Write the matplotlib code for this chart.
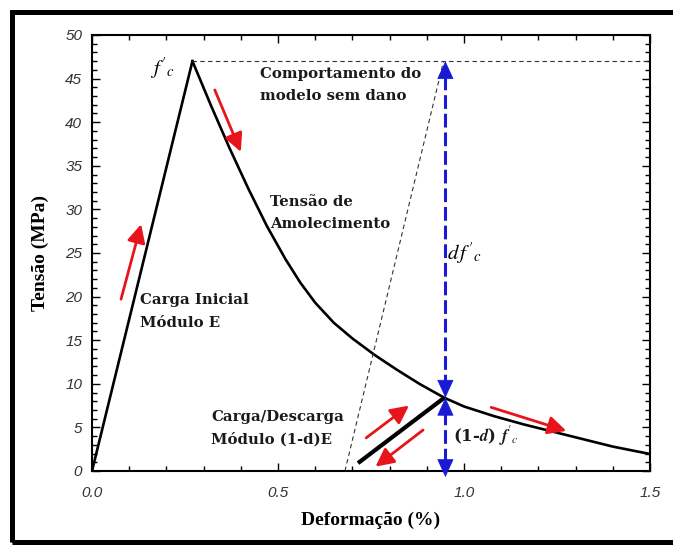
import matplotlib.pyplot as plt
from matplotlib.patches import Rectangle
from matplotlib.ticker import MultipleLocator

plt.rcParams['mathtext.fontset'] = 'stix'

# curva tensao x deformacao
pico_x, pico_y = 0.27, 47.0
amolec_x = [0.27, 0.32, 0.37, 0.42, 0.47, 0.52, 0.56, 0.60, 0.65, 0.70, 0.76,
            0.82, 0.88, 0.947, 1.00, 1.08, 1.16, 1.24, 1.32, 1.40, 1.50]
amolec_y = [47.0, 41.9, 37.0, 32.4, 28.1, 24.3, 21.6, 19.3, 17.0, 15.2, 13.3,
            11.6, 10.0, 8.4, 7.4, 6.3, 5.35, 4.5, 3.65, 2.8, 1.95]

# comportamento sem dano (reta paralela ao modulo E)
sem_dano_x = [0.68, 0.945]
sem_dano_y = [0.0, 47.0]

# ramo de carga/descarga
descarga_x = [0.715, 0.947]
descarga_y = [0.9, 8.4]

# setas vermelhas (origem, destino)
setas = [
    ((0.078, 19.7), (0.132, 28.3)),
    ((0.330, 43.7), (0.400, 36.6)),
    ((0.737, 3.8), (0.852, 7.5)),
    ((0.890, 4.7), (0.762, 0.5)),
    ((1.073, 7.3), (1.275, 4.6)),
]

fig = plt.figure(figsize=(6.73, 5.45), dpi=100)
ax = fig.add_axes([92 / 673, 1 - 471 / 545, 558 / 673, 436 / 545])

# moldura externa
fig.patches.append(Rectangle((12 / 673, 3 / 545), 1.2, 1 - 15 / 545,
                             transform=fig.transFigure, fill=False,
                             lw=3.6, ec='black', clip_on=False))

ax.plot([0, pico_x], [0, pico_y], color='black', lw=1.9)
ax.plot(amolec_x, amolec_y, color='black', lw=1.9)
ax.plot([pico_x, 1.5], [pico_y, pico_y], color='#333333', lw=0.8, dashes=(4, 3))
ax.plot(sem_dano_x, sem_dano_y, color='#333333', lw=0.8, dashes=(4, 3))
ax.plot(descarga_x, descarga_y, color='black', lw=3.0, solid_capstyle='butt')

for (x0, y0), (x1, y1) in setas:
    ax.annotate('', xy=(x1, y1), xytext=(x0, y0),
                arrowprops=dict(arrowstyle='-|>,head_length=11,head_width=5.5',
                                mutation_scale=1, color='#e8141b', lw=2.0,
                                shrinkA=0, shrinkB=0))

# cotas azuis
xb = 0.95
azul = '#1a1ad6'
ax.plot([xb, xb], [9.5, 45.5], color=azul, lw=2.2, dashes=(4.5, 1.6))
ax.plot([xb, xb], [1.0, 7.3], color=azul, lw=2.2, dashes=(4.5, 1.6))
for y_tip, y_base in [(47.0, 44.5), (8.4, 10.9), (8.4, 5.9), (-0.7, 1.8)]:
    ax.annotate('', xy=(xb, y_tip), xytext=(xb, y_base),
                arrowprops=dict(arrowstyle='-|>,head_length=12,head_width=5.5',
                                mutation_scale=1, color=azul, lw=0.5,
                                shrinkA=0, shrinkB=0),
                annotation_clip=False)

fonte = dict(family='DejaVu Serif', fontweight='bold', fontsize=10.7, color='#1a1a1a',
             va='center', ha='left', linespacing=1.75)
ax.text(0.452, 44.3, 'Comportamento do\nmodelo sem dano', **fonte)
ax.text(0.478, 29.6, 'Tensão de\nAmolecimento', **fonte)
ax.text(0.129, 18.3, 'Carga Inicial\nMódulo E', **fonte)
ax.text(0.32, 4.9, 'Carga/Descarga\nMódulo (1-d)E', **fonte)
ax.text(0.19, 46.2, "$f'_c$", ha='center', va='center', fontsize=15)
ax.text(0.955, 25.0, "$d\\,f'_c$", ha='left', va='center', fontsize=15)
ax.text(0.97, 4.0, "(1-$\\mathbfit{d}$) $\\mathbfit{f}'_\\mathit{c}$", ha='left', va='center',
        family='DejaVu Serif', fontweight='bold', fontsize=12, color='#1a1a1a')

ax.set_xlim(0, 1.5)
ax.set_ylim(0, 50)
ax.xaxis.set_major_locator(MultipleLocator(0.5))
ax.xaxis.set_minor_locator(MultipleLocator(0.1))
ax.yaxis.set_major_locator(MultipleLocator(5))
ax.yaxis.set_minor_locator(MultipleLocator(1))
ax.xaxis.set_major_formatter(lambda v, p: f'{v:.1f}')
ax.yaxis.set_major_formatter(lambda v, p: f'{v:.0f}')
ax.tick_params(which='both', direction='in', top=True, right=True, width=1.0)
ax.tick_params(which='major', length=6)
ax.tick_params(which='minor', length=3.5)
ax.tick_params(axis='x', pad=11)
ax.tick_params(axis='y', pad=7)
for lab in ax.get_xticklabels() + ax.get_yticklabels():
    lab.set_family('Liberation Sans')
    lab.set_style('italic')
    lab.set_fontsize(11)
    lab.set_color('#333333')
for s in ax.spines.values():
    s.set_linewidth(1.5)

ax.set_xlabel('Deformação (%)', family='Liberation Serif', fontweight='bold',
              fontsize=14, labelpad=8)
ax.set_ylabel('Tensão (MPa)', family='Liberation Serif', fontweight='bold',
              fontsize=14, labelpad=12)

fig.savefig('out.png', dpi=100)
